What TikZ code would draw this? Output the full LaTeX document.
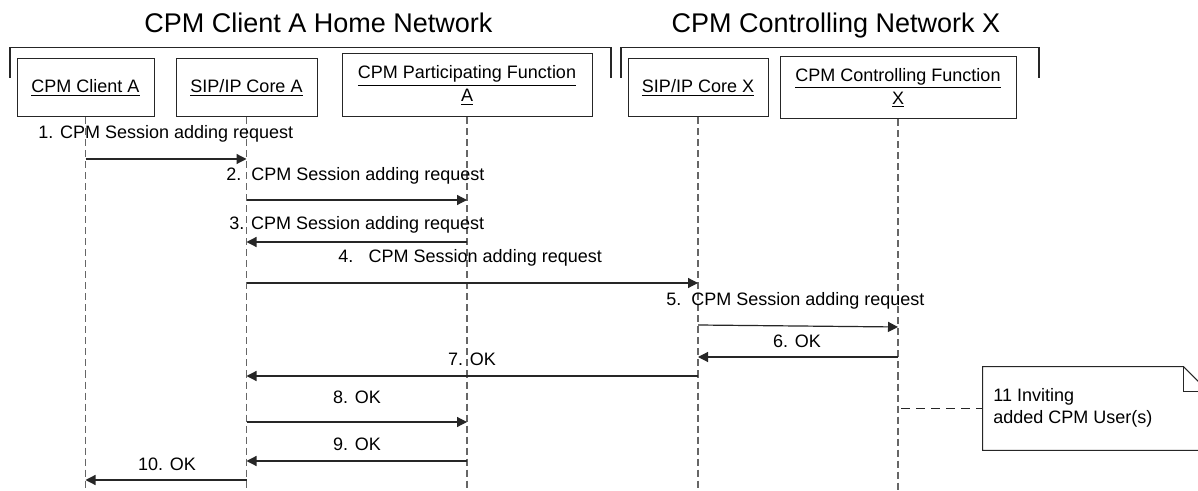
\documentclass[tikz,border=0pt]{standalone}
\usepackage{fontspec}
\setmainfont{Liberation Sans}
\usetikzlibrary{arrows.meta}
\begin{document}
\begin{tikzpicture}[x=0.5pt,y=-0.5pt,
  font=\fontsize{9}{11}\selectfont,
  party/.style={draw=black!85, line width=0.5pt, inner sep=0pt, align=center},
  lifeline/.style={draw=black!60, line width=0.6pt, dash pattern=on 3.5pt off 2pt},
  msg/.style={draw=black!85, line width=0.6pt, -{Triangle[length=5pt,width=5pt]}},
  bracket/.style={draw=black!85, line width=0.6pt},
  notestyle/.style={draw=black!85, line width=0.5pt},
  notelink/.style={draw=black!85, line width=0.6pt, dash pattern=on 4.5pt off 3pt},
  title/.style={font=\fontsize{13.5}{16}\selectfont, anchor=base, inner sep=0pt},
  lbl/.style={inner sep=0pt},
]
\clip (0,0) rectangle (1198,491);
\fill[white] (0,0) rectangle (1198,491);
% titles
\node[title] (ta) at (318.5,33) {CPM Client A Home Network};
\node[title] (tx) at (836,33) {CPM Controlling Network X};
% brackets
\draw[bracket] (10,78) -- (10,47.7) -- (611,47.7) -- (611,78);
\draw[bracket] (621,78) -- (621,47.7) -- (1039,47.7) -- (1039,78);
% participants
\node[party, minimum width=68.5pt, minimum height=29pt] (ca) at (85.5,88) {\underline{CPM Client A}};
\node[party, minimum width=70.5pt, minimum height=29pt] (coa) at (246.5,88) {\underline{SIP/IP Core A}};
\node[party, minimum width=125pt, minimum height=31.5pt, font=\fontsize{9}{11.5}\selectfont] (pf) at (467,85.5) {\underline{CPM Participating Function}\\\underline{A}};
\node[party, minimum width=70pt, minimum height=29pt] (cox) at (698,88) {\underline{SIP/IP Core X}};
\node[party, minimum width=118pt, minimum height=31pt, font=\fontsize{9}{11.5}\selectfont] (cf) at (898,88) {\underline{CPM Controlling Function}\\\underline{X}};
% lifelines
\draw[lifeline] (ca.south) -- (ca.south |- 0,491);
\draw[lifeline] (coa.south) -- (coa.south |- 0,491);
\draw[lifeline] (pf.south) -- (pf.south |- 0,491);
\draw[lifeline] (cox.south) -- (cox.south |- 0,491);
\draw[lifeline] (cf.south) -- (cf.south |- 0,491);
% messages
\node[lbl, anchor=west] (l1) at (38,134) {1. CPM Session adding request};
\draw[msg] (ca.south |- 0,159) -- (coa.south |- 0,159);
\node[lbl, anchor=west] (l2) at (226,176) {2.\hspace{0.55em}CPM Session adding request};
\draw[msg] (coa.south |- 0,200) -- (pf.south |- 0,200);
\node[lbl, anchor=west] (l3) at (229,225) {3. CPM Session adding request};
\draw[msg] (pf.south |- 0,242) -- (coa.south |- 0,242);
\node[lbl, anchor=west] (l4) at (338,258) {4.\hspace{0.85em}CPM Session adding request};
\draw[msg] (coa.south |- 0,283) -- (cox.south |- 0,283);
\node[lbl, anchor=west] (l5) at (666,301) {5.\hspace{0.55em}CPM Session adding request};
\draw[msg] (cox.south |- 0,325) -- (cf.south |- 0,327);
\node[lbl] (l6) at (797,341) {6. OK};
\draw[msg] (cf.south |- 0,357) -- (cox.south |- 0,357);
\node[lbl] (l7) at (472,359) {7. OK};
\draw[msg] (cox.south |- 0,376) -- (coa.south |- 0,376);
\node[lbl] (l8) at (357,397) {8. OK};
\draw[msg] (coa.south |- 0,422) -- (pf.south |- 0,422);
\node[lbl] (l9) at (357,444) {9. OK};
\draw[msg] (pf.south |- 0,461) -- (coa.south |- 0,461);
\node[lbl] (l10) at (167,464) {10. OK};
\draw[msg] (coa.south |- 0,480) -- (ca.south |- 0,480);
% note
\node[minimum width=112.5pt, minimum height=41.5pt, inner sep=0pt] (note) at (1095.5,408.5) {};
\draw[notestyle] (note.north west) -- ([xshift=-12.5pt]note.north east) -- ([yshift=-12.5pt]note.north east) -- (note.south east) -- (note.south west) -- cycle;
\draw[notestyle] ([xshift=-12.5pt]note.north east) -- ([xshift=-12.5pt,yshift=-12.5pt]note.north east) -- ([yshift=-12.5pt]note.north east);
\node[lbl, anchor=west, align=left] (nt) at (993,408) {11 Inviting\\added CPM User(s)};
\draw[notelink] ([xshift=1.5pt]cf.south |- note.west) -- (note.west);
\end{tikzpicture}
\end{document}
